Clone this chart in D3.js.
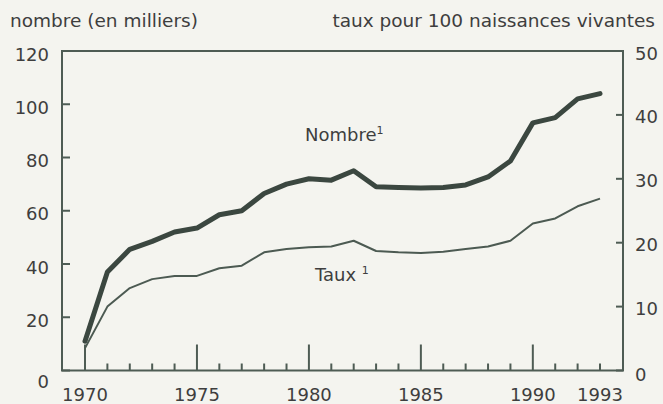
<!DOCTYPE html>
<html>
<head>
<meta charset="utf-8">
<script src="https://cdn.jsdelivr.net/npm/d3@7"></script>
<style>
  body { margin: 0; background: #f4f4ef; }
  svg { display: block; }
  text { font-family: "DejaVu Sans", sans-serif; fill: #3e3e3e; }
</style>
</head>
<body>
<div id="chart"></div>
<script>
// years and the two series
var years = [1970, 1971, 1972, 1973, 1974, 1975, 1976, 1977, 1978, 1979, 1980, 1981,
             1982, 1983, 1984, 1985, 1986, 1987, 1988, 1989, 1990, 1991, 1992, 1993];
var nombre = [11, 37, 45.5, 48.5, 52, 53.5, 58.5, 60, 66.5, 70, 72, 71.5,
              75, 69, 68.7, 68.5, 68.7, 69.7, 72.7, 78.7, 93, 95, 102, 104];
var taux = [3.5, 10, 12.9, 14.3, 14.8, 14.8, 16, 16.4, 18.5, 19, 19.3, 19.4,
            20.3, 18.7, 18.5, 18.4, 18.6, 19, 19.4, 20.3, 23, 23.8, 25.7, 26.9];

var leftTicks = [0, 20, 40, 60, 80, 100, 120];
var rightTicks = [0, 10, 20, 30, 40, 50];
var yearLabels = [1970, 1975, 1980, 1985, 1990, 1993];
var bigTicks = [1970, 1975, 1980, 1985, 1990];

var width = 663, height = 404;
var frame = { left: 62, right: 623, top: 51, bottom: 370.5 };
var axisColor = "#4e5c54";

var svg = d3.select("#chart").append("svg")
    .attr("width", width)
    .attr("height", height);

var x = d3.scaleLinear().domain([1970, 1993]).range([85, 600]);
var yL = d3.scaleLinear().domain([0, 120]).range([frame.bottom, frame.top]);
var yR = d3.scaleLinear().domain([0, 50]).range([frame.bottom, frame.top]);

// frame
svg.append("rect")
    .attr("x", frame.left)
    .attr("y", frame.top)
    .attr("width", frame.right - frame.left)
    .attr("height", frame.bottom - frame.top)
    .attr("fill", "none")
    .attr("stroke", axisColor)
    .attr("stroke-width", 2);

// left axis ticks + labels
svg.selectAll(".lt").data(leftTicks).enter().append("line")
    .attr("x1", frame.left).attr("x2", frame.left + 8)
    .attr("y1", function(d) { return yL(d); })
    .attr("y2", function(d) { return yL(d); })
    .attr("stroke", axisColor).attr("stroke-width", 2);

// the 0 label sits a bit lower than the others
svg.selectAll(".ll").data(leftTicks).enter().append("text")
    .attr("x", 49)
    .attr("y", function(d) { return yL(d) + (d == 0 ? 17 : 9.5); })
    .attr("text-anchor", "end")
    .style("font-size", "18px")
    .text(function(d) { return d; });

// right axis
svg.selectAll(".rt").data(rightTicks).enter().append("line")
    .attr("x1", frame.right - 7).attr("x2", frame.right)
    .attr("y1", function(d) { return yR(d); })
    .attr("y2", function(d) { return yR(d); })
    .attr("stroke", axisColor).attr("stroke-width", 2);

svg.selectAll(".rl").data(rightTicks).enter().append("text")
    .attr("x", 635)
    .attr("y", function(d) { return yR(d) + (d == 0 ? 10 : 8.5); })
    .style("font-size", "18px")
    .text(function(d) { return d; });

// x ticks, every year, longer every 5
svg.selectAll(".xt").data(years).enter().append("line")
    .attr("x1", function(d) { return x(d); })
    .attr("x2", function(d) { return x(d); })
    .attr("y1", frame.bottom)
    .attr("y2", function(d) { return bigTicks.indexOf(d) >= 0 ? frame.bottom - 26 : frame.bottom - 7; })
    .attr("stroke", axisColor).attr("stroke-width", 2);

svg.selectAll(".xl").data(yearLabels).enter().append("text")
    .attr("x", function(d) { return x(d); })
    .attr("y", 401)
    .attr("text-anchor", "middle")
    .style("font-size", "18px")
    .text(function(d) { return d; });

// axis titles
svg.append("text")
    .attr("x", 10).attr("y", 27)
    .style("font-size", "18.5px")
    .text("nombre (en milliers)");

svg.append("text")
    .attr("x", 655).attr("y", 27)
    .attr("text-anchor", "end")
    .style("font-size", "18.5px")
    .text("taux pour 100 naissances vivantes");

// lines
var lineN = d3.line()
    .x(function(d, i) { return x(years[i]); })
    .y(function(d) { return yL(d); });

var lineT = d3.line()
    .x(function(d, i) { return x(years[i]); })
    .y(function(d) { return yR(d); });

svg.append("path")
    .datum(taux)
    .attr("d", lineT)
    .attr("fill", "none")
    .attr("stroke", "#4c5a52")
    .attr("stroke-width", 2)
    .attr("stroke-linejoin", "round");

svg.append("path")
    .datum(nombre)
    .attr("d", lineN)
    .attr("fill", "none")
    .attr("stroke", "#3b4740")
    .attr("stroke-width", 5)
    .attr("stroke-linejoin", "round")
    .attr("stroke-linecap", "round");

// series labels
var tN = svg.append("text")
    .attr("x", 305).attr("y", 141)
    .style("font-size", "18px");
tN.append("tspan").text("Nombre");
tN.append("tspan").attr("dy", -7).style("font-size", "11px").text("1");

var tT = svg.append("text")
    .attr("x", 315).attr("y", 281)
    .style("font-size", "18px");
tT.append("tspan").text("Taux ");
tT.append("tspan").attr("dy", -7).style("font-size", "11px").text("1");
</script>
</body>
</html>
